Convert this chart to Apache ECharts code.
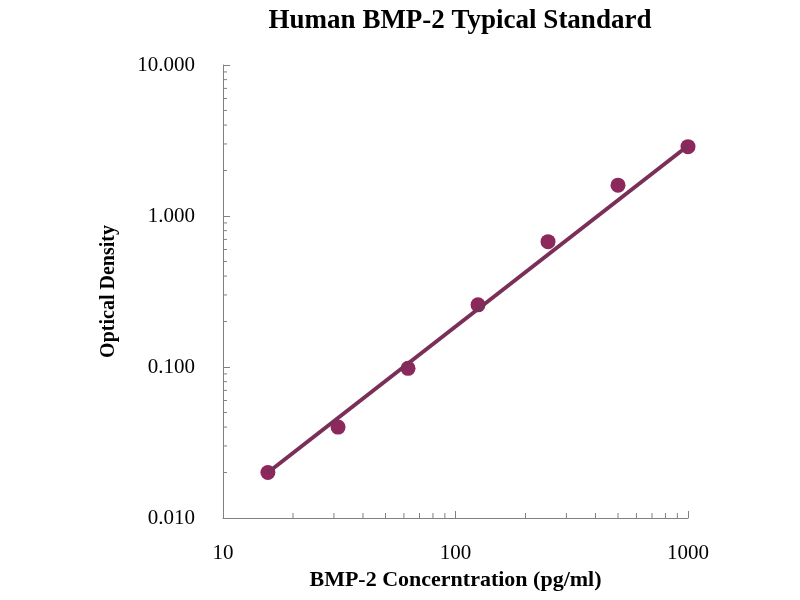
<!DOCTYPE html>
<html>
<head>
<meta charset="utf-8">
<title>Human BMP-2 Typical Standard</title>
<script src="https://cdn.jsdelivr.net/npm/echarts@6/dist/echarts.min.js"></script>
<style>
  html, body { margin: 0; padding: 0; background: #fff; }
  #chart { width: 800px; height: 600px; }
</style>
</head>
<body>
<div id="chart"></div>
<script>
// 标准品浓度 (pg/ml) 与实测 OD
const concentrations = [15.6, 31.25, 62.5, 125, 250, 500, 1000];
const odValues = [0.020, 0.040, 0.098, 0.258, 0.676, 1.60, 2.88];

// 拟合直线 (两端点, 读自原图)
const fitX = [15.6, 1000];
const fitY = [0.0200, 2.92];

// 对数轴次刻度
const xMinorTicks = [20, 30, 40, 50, 60, 70, 80, 90, 200, 300, 400, 500, 600, 700, 800, 900];
const yMinorTicks = [0.02, 0.03, 0.04, 0.05, 0.06, 0.07, 0.08, 0.09,
                     0.2, 0.3, 0.4, 0.5, 0.6, 0.7, 0.8, 0.9,
                     2, 3, 4, 5, 6, 7, 8, 9];

const X_MIN = 10, X_MAX = 1000, Y_MIN = 0.01, Y_MAX = 10;
const FONT = "'Liberation Serif', 'Times New Roman', serif";
const axisColor = '#808080';
const markColor = '#8c285c';
const lineColor = '#7a2f58';

const chart = echarts.init(document.getElementById('chart'));

const option = {
    backgroundColor: '#fff',
    animation: false,
    title: {
        text: 'Human BMP-2 Typical Standard',
        left: 455,
        top: 3,
        textAlign: 'center',
        textStyle: { fontFamily: FONT, fontSize: 27, fontWeight: 'bold', color: '#000' }
    },
    grid: { left: 223, right: 112, top: 65, bottom: 82 },
    xAxis: {
        type: 'log',
        logBase: 10,
        min: X_MIN,
        max: X_MAX,
        name: 'BMP-2 Concerntration (pg/ml)',
        nameLocation: 'middle',
        nameGap: 50,
        nameTextStyle: { fontFamily: FONT, fontSize: 22, fontWeight: 'bold', color: '#000' },
        axisLine: { lineStyle: { color: axisColor, width: 1 } },
        axisTick: { inside: true, length: 7, lineStyle: { color: axisColor } },
        axisLabel: { fontFamily: FONT, fontSize: 21, color: '#000', margin: 25,
                     formatter: v => String(Math.round(v)) },
        splitLine: { show: false }
    },
    yAxis: {
        type: 'log',
        logBase: 10,
        min: Y_MIN,
        max: Y_MAX,
        name: 'Optical Density',
        nameLocation: 'middle',
        nameGap: 104,
        nameTextStyle: { fontFamily: FONT, fontSize: 20, fontWeight: 'bold', color: '#000' },
        axisLine: { show: true, lineStyle: { color: axisColor, width: 1 } },
        axisTick: { show: true, inside: true, length: 7, lineStyle: { color: axisColor } },
        axisLabel: { fontFamily: FONT, fontSize: 21, color: '#000', margin: 28,
                     formatter: v => v.toFixed(3) },
        splitLine: { show: false }
    },
    series: [
        {
            // 次刻度 x
            type: 'custom',
            silent: true,
            z: 1,
            data: xMinorTicks.map(v => [v, Y_MIN]),
            renderItem: (params, api) => {
                const p = api.coord([api.value(0), Y_MIN]);
                return {
                    type: 'line',
                    shape: { x1: p[0], y1: p[1], x2: p[0], y2: p[1] - 5 },
                    style: { stroke: axisColor, lineWidth: 1 }
                };
            }
        },
        {
            // 次刻度 y
            type: 'custom',
            silent: true,
            z: 1,
            data: yMinorTicks.map(v => [X_MIN, v]),
            renderItem: (params, api) => {
                const p = api.coord([X_MIN, api.value(1)]);
                return {
                    type: 'line',
                    shape: { x1: p[0], y1: p[1], x2: p[0] + 4, y2: p[1] },
                    style: { stroke: axisColor, lineWidth: 1 }
                };
            }
        },
        {
            name: 'OD',
            type: 'scatter',
            z: 2,
            symbol: 'circle',
            symbolSize: 15,
            itemStyle: { color: markColor, opacity: 1 },
            data: concentrations.map((c, i) => [c, odValues[i]])
        },
        {
            name: 'Fit',
            type: 'line',
            z: 3,
            showSymbol: false,
            symbol: 'none',
            lineStyle: { color: lineColor, width: 4 },
            data: fitX.map((x, i) => [x, fitY[i]])
        }
    ]
};

chart.setOption(option);
</script>
</body>
</html>
